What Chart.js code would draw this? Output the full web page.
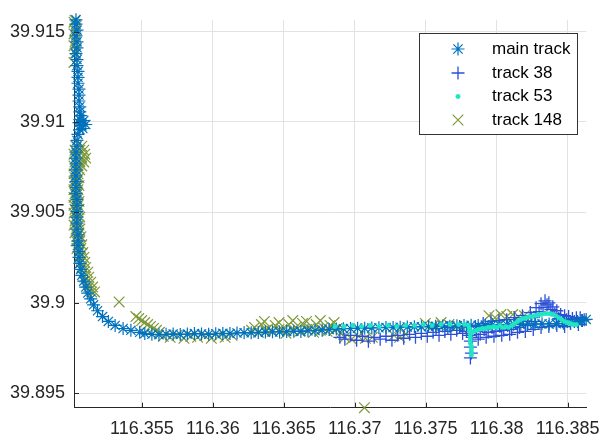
<!DOCTYPE html>
<html>
<head>
<meta charset="utf-8">
<script src="https://cdn.jsdelivr.net/npm/chart.js@4/dist/chart.umd.min.js"></script>
<style>
  html, body { margin: 0; padding: 0; background: #ffffff; }
  canvas { display: block; }
</style>
</head>
<body>
<canvas id="trackChart" width="611" height="438"></canvas>
<script>
// ---- track coordinates (longitude / latitude) ----
const mainLon = [
  116.35035, 116.35035, 116.35042, 116.35035, 116.35042, 116.35042, 116.35035, 116.35042, 116.35042, 116.35049,
  116.35049, 116.35049, 116.35056, 116.35056, 116.35056, 116.35062, 116.35062, 116.35069, 116.35062, 116.35056,
  116.35069, 116.35062, 116.35090, 116.35104, 116.35083, 116.35049, 116.35042, 116.35042, 116.35035, 116.35035,
  116.35035, 116.35035, 116.35035, 116.35035, 116.35035, 116.35035, 116.35042, 116.35042, 116.35042, 116.35042,
  116.35042, 116.35042, 116.35049, 116.35049,
  116.35049, 116.35056, 116.35056, 116.35062, 116.35069, 116.35076, 116.35090, 116.35104, 116.35118, 116.35139,
  116.35159, 116.35187, 116.35222, 116.35263, 116.35311, 116.35367, 116.35422, 116.35484,
  116.3552, 116.3557, 116.3562, 116.3567, 116.3572, 116.3577, 116.3582, 116.3587, 116.3592, 116.3597,
  116.3602, 116.3607, 116.3612, 116.3617, 116.3622, 116.3627, 116.3632, 116.3637, 116.3642, 116.3647,
  116.3652, 116.3657, 116.3662, 116.3667, 116.3672, 116.3677, 116.3682, 116.3687, 116.3692, 116.3697,
  116.3702, 116.3707, 116.3712, 116.3717, 116.3722, 116.3727, 116.3732, 116.3737, 116.3742, 116.3747,
  116.3752, 116.3757, 116.3762, 116.3767, 116.3772, 116.3777, 116.3782, 116.3787, 116.3792, 116.3797,
  116.3802, 116.3807, 116.3812, 116.3817, 116.3822, 116.3827, 116.3832, 116.3837, 116.3842, 116.3847,
  116.3852, 116.3857, 116.3860, 116.38631
];
const mainLat = [
  39.91565, 39.91541, 39.91508, 39.91476, 39.91443, 39.91410, 39.91378, 39.91345, 39.91312, 39.91280,
  39.91247, 39.91214, 39.91182, 39.91149, 39.91116, 39.91084, 39.91056, 39.91035, 39.91013, 39.90996,
  39.90980, 39.90958, 39.91008, 39.90986, 39.90964, 39.90931, 39.90898, 39.90866, 39.90833, 39.90800,
  39.90768, 39.90735, 39.90702, 39.90670, 39.90637, 39.90604, 39.90572, 39.90539, 39.90506, 39.90474,
  39.90441, 39.90408, 39.90376, 39.90343,
  39.90316, 39.90283, 39.90251, 39.90218, 39.90185, 39.90152, 39.90120, 39.90087, 39.90054, 39.90022,
  39.89989, 39.89956, 39.89924, 39.89897, 39.89875, 39.89858, 39.89848, 39.89837,
  39.89830, 39.89826, 39.89824, 39.89826, 39.89828, 39.89825, 39.89827, 39.89830, 39.89828, 39.89826,
  39.89829, 39.89831, 39.89830, 39.89833, 39.89835, 39.89834, 39.89836, 39.89838, 39.89840, 39.89839,
  39.89841, 39.89843, 39.89842, 39.89845, 39.89847, 39.89850, 39.89852, 39.89855, 39.89857, 39.89858,
  39.89860, 39.89859, 39.89861, 39.89862, 39.89864, 39.89863, 39.89865, 39.89866, 39.89868, 39.89867,
  39.89869, 39.89870, 39.89872, 39.89871, 39.89873, 39.89874, 39.89876, 39.89875, 39.89877, 39.89879,
  39.89878, 39.89880, 39.89882, 39.89881, 39.89883, 39.89882, 39.89884, 39.89883, 39.89885, 39.89887,
  39.89891, 39.89897, 39.89902, 39.89908
];

const track38Lon = [
  116.36895, 116.36930, 116.36971, 116.37013, 116.37054, 116.37096, 116.37137, 116.37179, 116.37220, 116.37262,
  116.37303, 116.37345, 116.37386, 116.37428, 116.37469, 116.37511, 116.37552, 116.37594, 116.37635, 116.37677,
  116.37718, 116.37760, 116.37787, 116.37808, 116.37815, 116.37815, 116.37822, 116.37815, 116.37829, 116.37857,
  116.37884, 116.37912, 116.37940, 116.37967, 116.37995, 116.38023, 116.38050, 116.38078, 116.38106, 116.38133,
  116.38161, 116.38189, 116.38216, 116.38244, 116.38272, 116.38299, 116.38327, 116.38355, 116.38382, 116.38410,
  116.38438, 116.38465, 116.38493, 116.38521, 116.38548, 116.38576, 116.38604,
  116.37573, 116.37656, 116.37739, 116.37850, 116.37905, 116.37960, 116.38016, 116.38071, 116.38126, 116.38182,
  116.38237, 116.38278, 116.38313, 116.38341, 116.38368, 116.38396, 116.38424, 116.38451, 116.38479, 116.38507,
  116.38534, 116.38562, 116.38589, 116.38617,
  116.37870, 116.37926, 116.37981, 116.38036, 116.38092, 116.38147, 116.38202, 116.38258, 116.38313, 116.38368,
  116.38424, 116.38479
];
const track38Lat = [
  39.89809, 39.89799, 39.89820, 39.89793, 39.89815, 39.89788, 39.89809, 39.89799, 39.89815, 39.89793,
  39.89820, 39.89804, 39.89826, 39.89809, 39.89831, 39.89815, 39.89837, 39.89820, 39.89842, 39.89826,
  39.89848, 39.89831, 39.89842, 39.89820, 39.89788, 39.89755, 39.89722, 39.89695, 39.89809, 39.89842,
  39.89826, 39.89853, 39.89837, 39.89864, 39.89842, 39.89869, 39.89848, 39.89875, 39.89853, 39.89886,
  39.89864, 39.89897, 39.89875, 39.89918, 39.89897, 39.89951, 39.89973, 39.89989, 39.89962, 39.89940,
  39.89913, 39.89897, 39.89907, 39.89886, 39.89897, 39.89880, 39.89902,
  39.89858, 39.89864, 39.89869, 39.89869, 39.89886, 39.89897, 39.89902, 39.89907, 39.89918, 39.89929,
  39.89946, 39.89973, 39.89995, 39.90011, 39.90000, 39.89978, 39.89956, 39.89935, 39.89929, 39.89924,
  39.89913, 39.89918, 39.89918, 39.89907,
  39.89799, 39.89809, 39.89815, 39.89820, 39.89826, 39.89837, 39.89842, 39.89853, 39.89864, 39.89869,
  39.89875, 39.89869
];

const track53Lon = [
  116.36861, 116.36923, 116.36985, 116.37047, 116.37110, 116.37172, 116.37234, 116.37296, 116.37359, 116.37421,
  116.37483, 116.37545, 116.37608, 116.37670, 116.37732, 116.37774, 116.37801, 116.37808, 116.37808, 116.37815,
  116.37815, 116.37815, 116.37815, 116.37822, 116.37822, 116.37822, 116.37822, 116.37822, 116.37836, 116.37857,
  116.37877, 116.37898, 116.37919, 116.37940, 116.37960, 116.37981, 116.38002, 116.38023, 116.38043, 116.38064,
  116.38085, 116.38106, 116.38126, 116.38147, 116.38168, 116.38189, 116.38209, 116.38230, 116.38251, 116.38272,
  116.38292, 116.38313, 116.38334, 116.38355, 116.38375, 116.38396, 116.38417, 116.38438, 116.38458, 116.38479,
  116.38500, 116.38521, 116.38541, 116.38562
];
const track53Lat = [
  39.89869, 39.89869, 39.89875, 39.89869, 39.89875, 39.89869, 39.89875, 39.89869, 39.89875, 39.89875,
  39.89880, 39.89875, 39.89880, 39.89880, 39.89880, 39.89880, 39.89875, 39.89858, 39.89842, 39.89826,
  39.89809, 39.89793, 39.89777, 39.89760, 39.89744, 39.89728, 39.89711, 39.89837, 39.89842, 39.89848,
  39.89853, 39.89858, 39.89858, 39.89864, 39.89864, 39.89869, 39.89864, 39.89875, 39.89864, 39.89869,
  39.89864, 39.89875, 39.89886, 39.89897, 39.89907, 39.89913, 39.89918, 39.89924, 39.89924, 39.89929,
  39.89935, 39.89935, 39.89940, 39.89940, 39.89940, 39.89935, 39.89929, 39.89918, 39.89907, 39.89897,
  39.89891, 39.89886, 39.89880, 39.89880
];

const track148Lon = [
  116.35028, 116.35021, 116.35035, 116.35028, 116.35021, 116.35035, 116.35028, 116.35021, 116.35035, 116.35028,
  116.35021,
  116.35035, 116.35076, 116.35028, 116.35062, 116.35090, 116.35021, 116.35049, 116.35097, 116.35035, 116.35076,
  116.35104, 116.35028, 116.35062, 116.35090, 116.35021, 116.35049, 116.35076, 116.35035, 116.35062, 116.35021,
  116.35049, 116.35028, 116.35056, 116.35021, 116.35042, 116.35035, 116.35056, 116.35021, 116.35049, 116.35028,
  116.35049, 116.35021, 116.35042, 116.35035, 116.35056, 116.35021, 116.35049, 116.35028, 116.35056, 116.35021,
  116.35042, 116.35035, 116.35062, 116.35028, 116.35049, 116.35021, 116.35056, 116.35035, 116.35062, 116.35028,
  116.35056, 116.35042, 116.35069, 116.35035, 116.35062, 116.35049, 116.35076, 116.35042, 116.35069, 116.35056,
  116.35083, 116.35062, 116.35090, 116.35069, 116.35097, 116.35076, 116.35104, 116.35090, 116.35118, 116.35097,
  116.35125, 116.35111, 116.35139, 116.35125, 116.35152, 116.35145, 116.35166,
  116.35339,
  116.35457, 116.35477, 116.35498, 116.35519, 116.35540, 116.35560, 116.35581, 116.35602, 116.35623,
  116.35650, 116.35699, 116.35747, 116.35796, 116.35844, 116.35892, 116.35941, 116.35989, 116.36038, 116.36086,
  116.36135,
  116.36294, 116.36342, 116.36390, 116.36439, 116.36487, 116.36536, 116.36584, 116.36632, 116.36681, 116.36729,
  116.36778, 116.36826, 116.36875,
  116.36321, 116.36418, 116.36515, 116.36612, 116.36709, 116.36805, 116.36902,
  116.36363, 116.36466, 116.36563, 116.36660, 116.36757, 116.36854,
  116.36273, 116.36370, 116.36466, 116.36563, 116.36660, 116.36757, 116.36854,
  116.36930, 116.36978, 116.37027, 116.37075, 116.37124,
  116.37068,
  116.37276, 116.37317, 116.37359,
  116.37497, 116.37552, 116.37608, 116.37663, 116.37718, 116.37760,
  116.37946, 116.37988, 116.38030, 116.38071, 116.38113, 116.38154, 116.38195
];
const track148Lat = [
  39.91563, 39.91552, 39.91530, 39.91508, 39.91487, 39.91465, 39.91443, 39.91421, 39.91399, 39.91378,
  39.91329,
  39.90866, 39.90866, 39.90844, 39.90844, 39.90844, 39.90822, 39.90822, 39.90822, 39.90800, 39.90800,
  39.90800, 39.90779, 39.90779, 39.90779, 39.90757, 39.90757, 39.90757, 39.90735, 39.90735, 39.90713,
  39.90713, 39.90692, 39.90692, 39.90670, 39.90670, 39.90648, 39.90648, 39.90626, 39.90626, 39.90604,
  39.90604, 39.90583, 39.90583, 39.90561, 39.90561, 39.90539, 39.90539, 39.90517, 39.90517, 39.90496,
  39.90496, 39.90474, 39.90474, 39.90452, 39.90452, 39.90430, 39.90430, 39.90408, 39.90408, 39.90387,
  39.90387, 39.90365, 39.90365, 39.90343, 39.90343, 39.90321, 39.90321, 39.90300, 39.90300, 39.90278,
  39.90278, 39.90251, 39.90251, 39.90223, 39.90223, 39.90196, 39.90196, 39.90169, 39.90169, 39.90142,
  39.90142, 39.90114, 39.90114, 39.90087, 39.90087, 39.90060, 39.90060,
  39.90005,
  39.89924, 39.89913, 39.89902, 39.89891, 39.89880, 39.89869, 39.89858, 39.89848, 39.89837,
  39.89815, 39.89809, 39.89820, 39.89804, 39.89815, 39.89809, 39.89820, 39.89804, 39.89815, 39.89809,
  39.89820,
  39.89864, 39.89880, 39.89858, 39.89875, 39.89853, 39.89880, 39.89864, 39.89886, 39.89858, 39.89880,
  39.89864, 39.89875, 39.89858,
  39.89837, 39.89842, 39.89831, 39.89842, 39.89837, 39.89842, 39.89831,
  39.89897, 39.89891, 39.89902, 39.89897, 39.89902, 39.89891,
  39.89848, 39.89848, 39.89853, 39.89848, 39.89853, 39.89848, 39.89848,
  39.89809, 39.89799, 39.89815, 39.89804, 39.89809,
  39.89420,
  39.89820, 39.89809, 39.89826,
  39.89886, 39.89875, 39.89891, 39.89880, 39.89869, 39.89853,
  39.89929, 39.89918, 39.89935, 39.89924, 39.89935, 39.89924, 39.89929
];

// ---- axes ----
const lonLimits = [116.35021, 116.38631];
const latLimits = [39.89420, 39.91565];
const lonTicks = [116.355, 116.36, 116.365, 116.37, 116.375, 116.38, 116.385];
const lonTickLabels = ['116.355', '116.36', '116.365', '116.37', '116.375', '116.38', '116.385'];
const latTicks = [39.895, 39.9, 39.905, 39.91, 39.915];
const latTickLabels = ['39.895', '39.9', '39.905', '39.91', '39.915'];

const seriesNames = ['main track', 'track 38', 'track 53', 'track 148'];

function toPoints(lon, lat) {
  return lon.map((x, i) => ({ x: x, y: lat[i] }));
}

const FONT = '"Liberation Sans", Arial, Helvetica, sans-serif';
const AXIS_COLOR = '#262626';

// inward tick marks on the left and bottom axes
const innerTicks = {
  id: 'innerTicks',
  afterDatasetsDraw(chart) {
    const { ctx, chartArea: a, scales: { x, y } } = chart;
    ctx.save();
    ctx.strokeStyle = AXIS_COLOR;
    ctx.lineWidth = 1;
    ctx.beginPath();
    x.ticks.forEach(t => {
      const px = Math.round(x.getPixelForValue(t.value)) + 0.5;
      ctx.moveTo(px, a.bottom);
      ctx.lineTo(px, a.bottom - 5);
    });
    y.ticks.forEach(t => {
      const py = Math.round(y.getPixelForValue(t.value)) + 0.5;
      ctx.moveTo(a.left, py);
      ctx.lineTo(a.left + 5, py);
    });
    ctx.stroke();
    ctx.restore();
  }
};

// boxed legend in the upper right of the plot
const boxLegend = {
  id: 'boxLegend',
  afterDraw(chart) {
    const ctx = chart.ctx;
    const left = 419.5, top = 33.5, w = 158, h = 101;
    const rows = [49, 73, 96.5, 120];
    ctx.save();
    ctx.fillStyle = '#ffffff';
    ctx.fillRect(left, top, w, h);
    ctx.strokeStyle = '#333333';
    ctx.lineWidth = 1;
    ctx.strokeRect(left, top, w, h);
    seriesNames.forEach((name, i) => {
      const ds = chart.data.datasets.find(d => d.label === name);
      ctx.strokeStyle = ds.pointBorderColor;
      ctx.fillStyle = ds.pointBackgroundColor;
      ctx.lineWidth = ds.pointBorderWidth;
      Chart.helpers.drawPoint(ctx, {
        pointStyle: ds.pointStyle,
        radius: ds.pointRadius,
        rotation: 0,
        borderWidth: ds.pointBorderWidth
      }, 458, rows[i]);
      ctx.fillStyle = '#000000';
      ctx.font = '17px ' + FONT;
      ctx.textAlign = 'left';
      ctx.textBaseline = 'middle';
      ctx.fillText(name, 492, rows[i]);
    });
    ctx.restore();
  }
};

Chart.defaults.font.family = FONT;

new Chart(document.getElementById('trackChart'), {
  type: 'scatter',
  data: {
    datasets: [
      {
        label: seriesNames[3],
        data: toPoints(track148Lon, track148Lat),
        pointStyle: 'crossRot',
        pointRadius: 7.5,
        pointBorderWidth: 1.2,
        pointBorderColor: '#7f9a3a',
        pointBackgroundColor: '#7f9a3a',
        order: 3,
        clip: false
      },
      {
        label: seriesNames[1],
        data: toPoints(track38Lon, track38Lat),
        pointStyle: 'cross',
        pointRadius: 6.5,
        pointBorderWidth: 1.3,
        pointBorderColor: '#2b4fd6',
        pointBackgroundColor: '#2b4fd6',
        order: 2,
        clip: false
      },
      {
        label: seriesNames[0],
        data: toPoints(mainLon, mainLat),
        pointStyle: 'star',
        pointRadius: 6.5,
        pointBorderWidth: 1.2,
        pointBorderColor: '#0072bd',
        pointBackgroundColor: '#0072bd',
        order: 1,
        clip: false
      },
      {
        label: seriesNames[2],
        data: toPoints(track53Lon, track53Lat),
        pointStyle: 'circle',
        pointRadius: 2.2,
        pointBorderWidth: 0.5,
        pointBorderColor: '#1ee6c3',
        pointBackgroundColor: '#1ee6c3',
        order: 0,
        clip: false
      }
    ]
  },
  options: {
    responsive: false,
    animation: false,
    devicePixelRatio: 1,
    layout: { padding: { top: 13.5, right: 15, bottom: 0, left: 0 } },
    plugins: {
      legend: { display: false },
      tooltip: { enabled: false }
    },
    elements: { point: { hoverRadius: 0 } },
    scales: {
      x: {
        type: 'linear',
        position: 'bottom',
        min: lonLimits[0],
        max: lonLimits[1],
        afterBuildTicks: s => { s.ticks = lonTicks.map(v => ({ value: v })); },
        afterFit: s => { s.height = 30.3; },
        ticks: {
          callback: (v, i) => lonTickLabels[i],
          font: { size: 18, family: FONT },
          color: AXIS_COLOR,
          padding: 11,
          maxRotation: 0,
          autoSkip: false
        },
        grid: { color: '#e2e2e2', lineWidth: 1, drawTicks: false },
        border: { display: true, color: AXIS_COLOR, width: 1 }
      },
      y: {
        type: 'linear',
        position: 'left',
        min: latLimits[0],
        max: latLimits[1],
        afterBuildTicks: s => { s.ticks = latTicks.map(v => ({ value: v })); },
        afterFit: s => { s.width = 74; },
        ticks: {
          callback: (v, i) => latTickLabels[i],
          font: { size: 18, family: FONT },
          color: AXIS_COLOR,
          padding: 9,
          autoSkip: false
        },
        grid: { color: '#e2e2e2', lineWidth: 1, drawTicks: false },
        border: { display: true, color: AXIS_COLOR, width: 1 }
      }
    }
  },
  plugins: [innerTicks, boxLegend]
});
</script>
</body>
</html>
